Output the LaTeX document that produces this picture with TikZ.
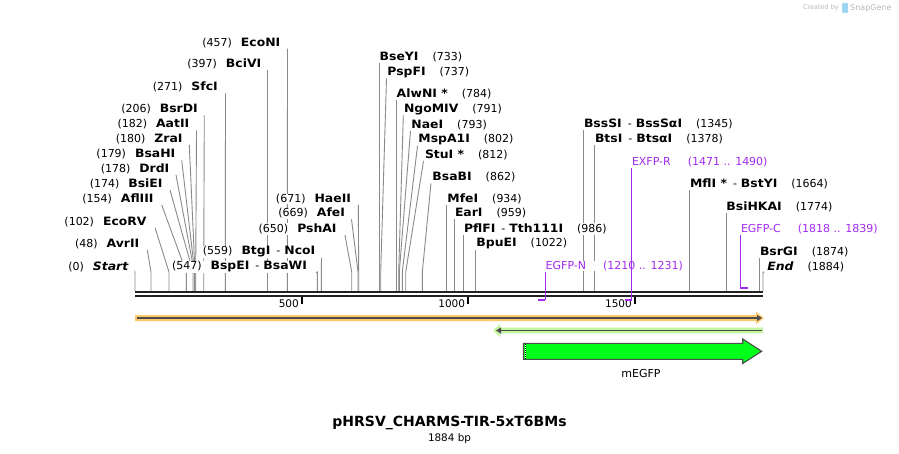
\documentclass[tikz,border=0pt]{standalone}
\usepackage{fontspec}
\setmainfont{DejaVu Sans}
\newfontfamily\nmfont[FakeStretch=1.08]{DejaVu Sans}
\usetikzlibrary{arrows.meta}
\definecolor{cutgray}{HTML}{8A8A8A}
\definecolor{primer}{HTML}{A22BEF}
\definecolor{bb}{HTML}{222222}
\definecolor{orangeband}{HTML}{FFC86E}
\definecolor{greenband}{HTML}{C4F5A0}
\definecolor{featgreen}{HTML}{00FF1A}
\definecolor{darkln}{HTML}{4D4D4D}
\definecolor{logogray}{HTML}{B8B8B8}
\definecolor{logoblue}{HTML}{9FD4F2}
\pgfdeclarelayer{lines}
\pgfsetlayers{lines,main}
\newcommand\nm[1]{{\nmfont\bfseries\fontsize{11.5}{13}\selectfont #1}}
\tikzset{
  lbl/.style={font=\fontsize{11}{13}\selectfont, inner sep=0.5pt, text=black, fill=white},
  plbl/.style={lbl, text=primer},
  cutline/.style={draw=cutgray, line width=0.9pt},
  primerline/.style={draw=primer, line width=1.2pt},
  primerbar/.style={draw=primer, line width=2pt},
  backbone/.style={draw=bb, line width=2pt},
  tickmark/.style={draw=black, line width=2pt},
  ticklbl/.style={font=\fontsize{10.5}{12}\selectfont, inner sep=0pt, anchor=east},
  featline/.style={draw=darkln, line width=1.8pt},
}
% left-side label: id, text, label east x, label y, line start x, site x
\newcommand\enzL[6]{%
  \node[lbl,anchor=east] (#1) at (#3,#4) {#2};
  \coordinate (#1-t) at (#5,#4+6);
  \coordinate (#1-k) at (#6,272);
  \coordinate (#1-s) at (#6,291);
  \begin{pgfonlayer}{lines}\draw[cutline] (#1-t) -- (#1-k) -- (#1-s);\end{pgfonlayer}}
% right-side label: id, text, label west x, label y, line start x, site x
\newcommand\enzR[6]{%
  \node[lbl,anchor=west] (#1) at (#3,#4) {#2};
  \coordinate (#1-t) at (#5,#4+6);
  \coordinate (#1-k) at (#6,272);
  \coordinate (#1-s) at (#6,291);
  \begin{pgfonlayer}{lines}\draw[cutline] (#1-t) -- (#1-k) -- (#1-s);\end{pgfonlayer}}
% primer: id, text, label west x, label y, line x, bar x1, bar x2, bar y
\newcommand\primerlbl[8]{%
  \node[plbl,anchor=west] (#1) at (#3,#4) {#2};
  \coordinate (#1-t) at (#5,#4+6);
  \coordinate (#1-s) at (#5,#8);
  \coordinate (#1-b1) at (#6,#8);
  \coordinate (#1-b2) at (#7,#8);
  \draw[primerline] (#1-t) -- (#1-s);
  \draw[primerbar] (#1-b1) -- (#1-b2);}
\begin{document}
\begin{tikzpicture}[x=1pt,y=-1pt]
\useasboundingbox (0,0) rectangle (899,454);
\begin{pgfonlayer}{lines}
\fill[white] (0,0) rectangle (899,454);
\end{pgfonlayer}

% logo
\node[font=\fontsize{6.5}{8}\selectfont, text=logogray, inner sep=0pt, anchor=east] (createdby) at (839,8) {Created by};
\fill[logoblue, rounded corners=1pt] (842,3) rectangle (848,13);
\node[font=\fontsize{8}{9}\selectfont, text=logogray, inner sep=0pt, anchor=west] (snapgene) at (850,8) {SnapGene};

% left group
\enzL{EcoNI}{(457)\hspace{9pt}\nm{EcoNI}}{281}{42.7}{287.5}{287.3}
\enzL{BciVI}{(397)\hspace{9pt}\nm{BciVI}}{262}{64.3}{267.3}{267.3}
\enzL{SfcI}{(271)\hspace{9pt}\nm{SfcI}}{218.5}{87.3}{225.5}{225.3}
\enzL{BsrDI}{(206)\hspace{9pt}\nm{BsrDI}}{198.5}{109.3}{204.3}{203.7}
\enzL{AatII}{(182)\hspace{9pt}\nm{AatII}}{190}{124.3}{196.5}{195.7}
\enzL{ZraI}{(180)\hspace{9pt}\nm{ZraI}}{183.3}{139}{189.3}{195}
\enzL{BsaHI}{(179)\hspace{9pt}\nm{BsaHI}}{176}{154.3}{181.7}{194.7}
\enzL{DrdI}{(178)\hspace{9pt}\nm{DrdI}}{170}{169}{176}{194.3}
\enzL{BsiEI}{(174)\hspace{9pt}\nm{BsiEI}}{163.3}{184}{170}{193}
\enzL{AflIII}{(154)\hspace{9pt}\nm{AflIII}}{154.3}{199}{161.7}{186.3}
\enzL{EcoRV}{(102)\hspace{9pt}\nm{EcoRV}}{147.3}{221.7}{155}{169}
\enzL{AvrII}{(48)\hspace{9pt}\nm{AvrII}}{140}{244}{147.3}{151}
\enzL{Start}{(0)\hspace{9pt}\nm{\itshape Start}}{129}{266.7}{135.3}{135}
\enzL{BspEI}{(547)\hspace{9pt}\nm{BspEI}\hspace{6pt}-\hspace{4pt}\nm{BsaWI}}{307.7}{266.7}{316}{317.3}
\enzL{BtgI}{(559)\hspace{9pt}\nm{BtgI}\hspace{6pt}-\hspace{4pt}\nm{NcoI}}{316}{251.7}{321.5}{321.3}
\enzL{HaeII}{(671)\hspace{9pt}\nm{HaeII}}{351.7}{199}{358.3}{358.7}
\enzL{AfeI}{(669)\hspace{9pt}\nm{AfeI}}{345.7}{213.3}{351.5}{358}
\enzL{PshAI}{(650)\hspace{9pt}\nm{PshAI}}{337.3}{229}{345}{351.7}

% right-side labels
\enzR{BseYI}{\nm{BseYI}\hspace{14pt}(733)}{379}{56.7}{379.3}{379.3}
\enzR{PspFI}{\nm{PspFI}\hspace{14pt}(737)}{386.7}{72.3}{386.5}{380.7}
\enzR{AlwNI}{\nm{AlwNI *}\hspace{14pt}(784)}{396}{94}{396.3}{396.3}
\enzR{NgoMIV}{\nm{NgoMIV}\hspace{14pt}(791)}{403.3}{109.3}{403.3}{398.7}
\enzR{NaeI}{\nm{NaeI}\hspace{14pt}(793)}{410.7}{125}{410.5}{399.3}
\enzR{MspAI}{\nm{MspA1I}\hspace{14pt}(802)}{417.7}{140}{417.5}{402.3}
\enzR{StuI}{\nm{StuI *}\hspace{14pt}(812)}{424.3}{155}{423.5}{405.7}
\enzR{BsaBI}{\nm{BsaBI}\hspace{14pt}(862)}{431.7}{177.3}{431}{422.3}
\enzR{MfeI}{\nm{MfeI}\hspace{14pt}(934)}{446.7}{199}{446.3}{446.3}
\enzR{EarI}{\nm{EarI}\hspace{14pt}(959)}{454.3}{213.3}{454.7}{454.7}
\enzR{PflFI}{\nm{PflFI}\hspace{6pt}-\hspace{4pt}\nm{Tth111I}\hspace{14pt}(986)}{463.3}{229}{463.7}{463.7}
\enzR{BpuEI}{\nm{BpuEI}\hspace{14pt}(1022)}{475.7}{244}{475.7}{475.7}
\enzR{BssSI}{\nm{BssSI}\hspace{6pt}-\hspace{4pt}\nm{BssSαI}\hspace{14pt}(1345)}{583.3}{124}{583.3}{583.3}
\enzR{BtsI}{\nm{BtsI}\hspace{6pt}-\hspace{4pt}\nm{BtsαI}\hspace{14pt}(1378)}{594.3}{139}{594.3}{594.3}
\enzR{MflI}{\nm{MflI *}\hspace{6pt}-\hspace{4pt}\nm{BstYI}\hspace{14pt}(1664)}{689.3}{184}{689.7}{689.7}
\enzR{BsiHKAI}{\nm{BsiHKAI}\hspace{14pt}(1774)}{725.7}{206.7}{726.3}{726.3}
\enzR{BsrGI}{\nm{BsrGI}\hspace{14pt}(1874)}{759.3}{251.7}{759.7}{759.7}
\enzR{End}{\nm{\itshape End}\hspace{14pt}(1884)}{766.7}{266.7}{764}{763}

% backbone
\draw[backbone] (135,292) -- (763,292);
\draw[backbone] (135,296) -- (763,296);

% ticks
\draw[tickmark] (302,297) -- (302,304);
\draw[tickmark] (468.3,297) -- (468.3,304);
\draw[tickmark] (635,297) -- (635,304);
\node[ticklbl] (t500) at (299,304) {500};
\node[ticklbl] (t1000) at (465.3,304) {1000};
\node[ticklbl] (t1500) at (632,304) {1500};

% primers
\primerlbl{EGFPN}{EGFP-N\hspace{17pt}(1210 .. 1231)}{545}{266}{545.3}{538.3}{545.3}{300}
\primerlbl{EXFPR}{EXFP-R\hspace{17pt}(1471 .. 1490)}{631.3}{161.7}{631.3}{625.3}{631.7}{300}
\primerlbl{EGFPC}{EGFP-C\hspace{17pt}(1818 .. 1839)}{740.3}{229}{740.3}{740.3}{747.7}{288}

% orange feature line
\fill[orangeband] (135,315) -- (756,315) -- (756,311.7) -- (764,318) -- (756,324.3) -- (756,321) -- (135,321) -- cycle;
\coordinate (or1) at (137,318);
\coordinate (or2) at (762,318);
\draw[featline, -{Triangle[length=5pt,width=6pt]}] (or1) -- (or2);

% green feature line
\fill[greenband] (763,327.7) -- (500,327.7) -- (500,324) -- (493,330.5) -- (500,337) -- (500,333.3) -- (763,333.3) -- cycle;
\coordinate (gr1) at (761.7,330.5);
\coordinate (gr2) at (496,330.5);
\draw[featline, -{Triangle[length=5pt,width=6pt]}] (gr1) -- (gr2);

% mEGFP feature
\filldraw[fill=featgreen, draw=darkln, line width=1.1pt, line join=miter]
  (523.3,343.3) -- (742.7,343.3) -- (742.7,339) -- (761.7,351.3) -- (742.7,363.5) -- (742.7,359.3) -- (523.3,359.3) -- cycle;
\draw[white, line width=0.8pt] (525,344) -- (525,358.6);
\draw[black, line width=0.8pt, dash pattern=on 1pt off 1pt] (525,344) -- (525,358.6);
\node[font=\fontsize{11}{13}\selectfont, inner sep=0pt] (mEGFP) at (641,373) {mEGFP};

% title
\node[font=\bfseries\fontsize{14}{16}\selectfont, inner sep=0pt] (title) at (449.5,423) {pHRSV\_CHARMS-TIR-5xT6BMs};
\node[font=\fontsize{10.4}{12}\selectfont, inner sep=0pt] (bp) at (449.5,438.5) {1884 bp};
\end{tikzpicture}
\end{document}
